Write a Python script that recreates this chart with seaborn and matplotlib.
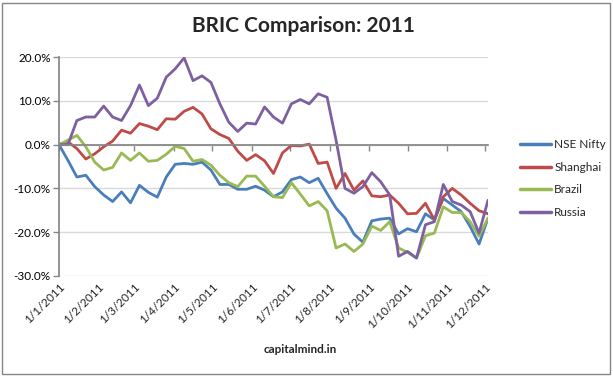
import numpy as np
import pandas as pd
import matplotlib
matplotlib.use("Agg")
import matplotlib.pyplot as plt
import matplotlib.dates as mdates
from matplotlib.patches import Rectangle
from matplotlib.ticker import FuncFormatter, FixedLocator
import seaborn as sns

# ---- data (weekly % change since 1 Jan 2011) ----
start_date = "2011-01-01"
n_weeks = 49
series_names = ["NSE Nifty", "Shanghai", "Brazil", "Russia"]

nifty = [0.0, -3.6, -7.4, -7.0, -9.6, -11.5, -13.0, -10.8, -13.3, -9.3,
         -10.9, -12.0, -7.4, -4.5, -4.3, -4.5, -4.0, -5.8, -9.1, -9.1,
         -10.2, -10.2, -9.5, -10.4, -11.9, -10.8, -8.0, -7.4, -8.7, -7.7,
         -11.2, -14.5, -16.8, -20.4, -22.3, -17.4, -17.0, -16.8, -20.4, -19.2,
         -19.9, -15.8, -17.2, -12.3, -13.8, -15.3, -18.7, -22.7, -16.8]
shanghai = [0.0, 0.6, -0.9, -3.3, -2.1, -0.5, 0.8, 3.3, 2.6, 4.8,
            4.2, 3.4, 5.9, 5.8, 7.6, 8.5, 7.0, 3.6, 2.3, 1.4,
            -1.5, -3.6, -2.3, -3.7, -6.6, -1.9, -0.2, -0.3, 0.1, -4.3,
            -4.0, -10.0, -6.6, -10.4, -8.3, -11.7, -11.9, -11.5, -13.4, -15.8,
            -15.7, -13.4, -17.2, -11.9, -10.0, -11.5, -13.4, -15.1, -15.8]
brazil = [0.0, 1.0, 2.1, -0.5, -4.0, -5.8, -5.2, -1.9, -3.6, -1.9,
          -3.8, -3.6, -2.2, -0.4, -0.9, -3.8, -3.4, -4.7, -7.0, -8.7,
          -9.6, -7.2, -7.2, -9.5, -11.9, -12.1, -8.7, -11.3, -14.0, -13.0,
          -15.1, -23.6, -22.7, -24.4, -22.7, -18.6, -19.6, -17.6, -23.6, -24.6,
          -25.9, -20.8, -20.2, -14.2, -15.5, -15.5, -17.6, -20.9, -16.8]
russia = [0.0, 0.0, 5.5, 6.3, 6.3, 8.8, 6.3, 5.5, 8.9, 13.6,
          8.9, 10.6, 15.4, 17.3, 19.8, 14.6, 15.7, 14.2, 9.3, 5.1,
          3.0, 4.9, 4.7, 8.6, 6.3, 4.9, 9.3, 10.3, 9.3, 11.6,
          10.8, 1.0, -10.0, -11.1, -9.6, -6.4, -8.5, -11.5, -25.5, -24.4,
          -25.9, -18.3, -17.6, -9.1, -13.0, -13.8, -15.3, -20.2, -12.7]

tick_labels = ["1/1/2011", "1/2/2011", "1/3/2011", "1/4/2011", "1/5/2011",
               "1/6/2011", "1/7/2011", "1/8/2011", "1/9/2011", "1/10/2011",
               "1/11/2011", "1/12/2011"]
y_ticks = [-30, -20, -10, 0, 10, 20]
colors = ["#4A7EBB", "#BE4B48", "#98B954", "#7D60A0"]

dates = pd.date_range(start_date, periods=n_weeks, freq="7D")
df = pd.DataFrame({"date": dates, "NSE Nifty": nifty, "Shanghai": shanghai,
                   "Brazil": brazil, "Russia": russia})
long = df.melt(id_vars="date", var_name="series", value_name="pct")
long["pct"] = long["pct"] / 100.0

sns.set_theme(style="white")
plt.rcParams["font.family"] = ["Lato", "DejaVu Sans"]

fig = plt.figure(figsize=(6.13, 3.76), dpi=100)
ax = fig.add_axes([59 / 613, 1 - 276 / 376, (488 - 59) / 613, (276 - 57) / 376])

sns.lineplot(data=long, x="date", y="pct", hue="series", hue_order=series_names,
             palette=colors, linewidth=2.0, ax=ax, legend=True)

ax.set_xlim(dates[0], dates[-1])
ax.set_ylim(-0.30, 0.20)

# y axis
ax.yaxis.set_major_locator(FixedLocator([v / 100 for v in y_ticks]))
ax.yaxis.set_major_formatter(FuncFormatter(lambda v, p: f"{v*100:.1f}%"))
ax.grid(axis="y", color="#D9D9D9", linewidth=1.0)
ax.grid(axis="x", visible=False)
ax.set_axisbelow(True)
ax.tick_params(axis="y", which="both", left=True, length=4, width=1,
               color="#868686", labelsize=8.5, pad=2, labelcolor="#000000")

# x axis: line at 0, labels at bottom
tick_dates = pd.date_range(start_date, periods=len(tick_labels), freq="MS")
for s in ["top", "right"]:
    ax.spines[s].set_visible(False)
ax.spines["left"].set_color("#868686")
ax.spines["bottom"].set_position(("data", 0))
ax.spines["bottom"].set_color("#868686")
ax.set_xticks(tick_dates)
ax.tick_params(axis="x", bottom=True, length=4, width=1, color="#868686",
               labelbottom=False)
sec = ax.secondary_xaxis(0)
sec.set_xticks(tick_dates)
sec.set_xticklabels(tick_labels, rotation=45, ha="right", rotation_mode="anchor",
                    fontsize=8.5)
sec.tick_params(axis="x", length=0, pad=4)
sec.spines["bottom"].set_visible(False)

ax.set_xlabel("")
ax.set_ylabel("")

# legend
leg = ax.legend(loc="center left", bbox_to_anchor=(1.05, 0.445), frameon=False,
                fontsize=8.5, handlelength=2.6, labelspacing=1.0, handletextpad=0.3)
for line in leg.get_lines():
    line.set_linewidth(2.5)

fig.text(0.495, 0.93, "BRIC Comparison: 2011", ha="center", va="center",
         fontsize=15, fontweight="bold")
fig.text(0.49, 0.07, "capitalmind.in", ha="center", va="center",
         fontsize=8.5, fontweight="bold")

fig.add_artist(Rectangle((2 / 613, 2 / 376), 608 / 613, 371 / 376,
                         transform=fig.transFigure, fill=False,
                         edgecolor="#868686", linewidth=1))

fig.savefig("out.png", dpi=100)
